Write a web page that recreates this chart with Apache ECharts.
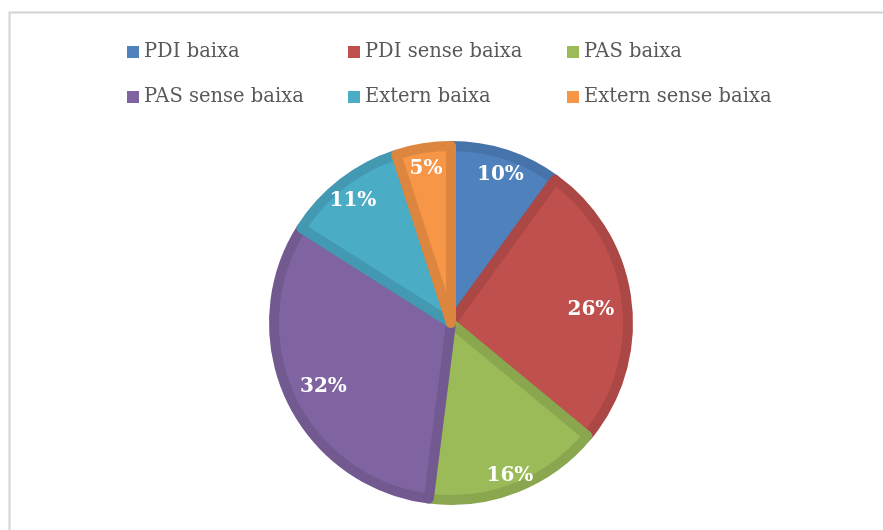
<!DOCTYPE html>
<html>
<head>
<meta charset="utf-8">
<script src="https://cdn.jsdelivr.net/npm/echarts@6/dist/echarts.min.js"></script>
<style>
  html, body { margin: 0; padding: 0; background: #fff; }
  #chart { width: 883px; height: 530px; }
</style>
</head>
<body>
<div id="chart"></div>
<script>
const categories = ['PDI baixa', 'PDI sense baixa', 'PAS baixa', 'PAS sense baixa', 'Extern baixa', 'Extern sense baixa'];
const values = [10, 26, 16, 32, 11, 5];
const fillColors = ['#4F81BD', '#C0504D', '#9BBB59', '#8064A2', '#4BACC6', '#F79646'];
const borderColors = ['#4673A9', '#AB4845', '#8AA74F', '#725990', '#4399B1', '#DC863F'];

const fontFamily = '"DejaVu Serif", serif';
const chart = echarts.init(document.getElementById('chart'));

const slices = values.map((v, i) => ({
  name: categories[i],
  value: v,
  itemStyle: { color: fillColors[i], borderColor: borderColors[i] }
}));

// legend laid out as a 3 x 2 grid, one legend per entry
const legendCols = [127, 348, 567];
const legendRows = [42, 87];
const legends = categories.map((c, i) => ({
  orient: 'horizontal',
  icon: 'rect',
  itemWidth: 12,
  itemHeight: 12,
  padding: 0,
  selectedMode: false,
  left: legendCols[i % 3],
  top: legendRows[Math.floor(i / 3)],
  itemStyle: { borderWidth: 0 },
  textStyle: { color: '#595959', fontFamily: fontFamily, fontSize: 19.5 },
  data: [{ name: c, itemStyle: { color: fillColors[i], borderWidth: 0 } }]
}));

// Excel "best fit": big slices get their label a bit nearer the centre
const labelSeries = (ring, test) => ({
  type: 'pie',
  center: [451, 323],
  radius: ring,
  startAngle: 90,
  clockwise: true,
  silent: true,
  itemStyle: { color: 'transparent', borderWidth: 0 },
  emphasis: { disabled: true },
  label: {
    position: 'inside',
    formatter: p => p.value + '%',
    color: '#fff',
    fontFamily: fontFamily,
    fontWeight: 'bold',
    fontSize: 20,
    offset: [0, 4]
  },
  labelLine: { show: false },
  data: values.map((v, i) => ({ name: categories[i], value: v, label: { show: test(v) } }))
});

chart.setOption({
  animation: false,
  graphic: [{
    type: 'rect',
    shape: { x: 9.5, y: 12.5, width: 900, height: 600 },
    style: { fill: 'none', stroke: '#d4d4d4', lineWidth: 2 },
    silent: true
  }],
  legend: legends,
  series: [
    {
      type: 'pie',
      center: [451, 323],
      radius: 177,
      startAngle: 90,
      clockwise: true,
      silent: true,
      label: { show: false },
      labelLine: { show: false },
      itemStyle: { borderWidth: 10 },
      emphasis: { disabled: true },
      data: slices
    },
    labelSeries([96, 180], v => v > 20),
    labelSeries([134, 180], v => v <= 20)
  ]
});
</script>
</body>
</html>
